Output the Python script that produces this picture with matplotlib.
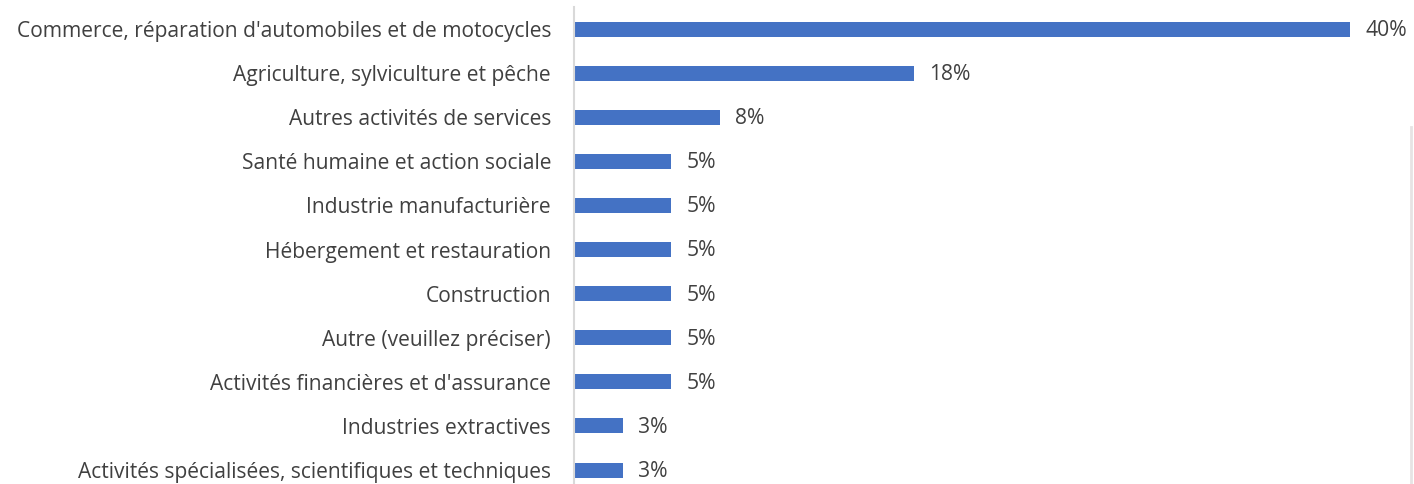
import matplotlib
matplotlib.use("Agg")
import matplotlib.pyplot as plt
from matplotlib.lines import Line2D

categories = [
    "Commerce, réparation d'automobiles et de motocycles",
    "Agriculture, sylviculture et pêche",
    "Autres activités de services",
    "Santé humaine et action sociale",
    "Industrie manufacturière",
    "Hébergement et restauration",
    "Construction",
    "Autre (veuillez préciser)",
    "Activités financières et d'assurance",
    "Industries extractives",
    "Activités spécialisées, scientifiques et techniques",
]
values = [40.0, 17.5, 7.5, 5.0, 5.0, 5.0, 5.0, 5.0, 5.0, 2.5, 2.5]
value_labels = ["40%", "18%", "8%", "5%", "5%", "5%", "5%", "5%", "5%", "3%", "3%"]

W, H = 1414, 484
fig = plt.figure(figsize=(W / 100, H / 100), dpi=100)

px_per_unit = 19.4
xmax = 43
left = 574
top = 7
spacing = 44.1
n = len(categories)
bottom_px = top + spacing * n
ax = fig.add_axes([left / W, 1 - bottom_px / H, xmax * px_per_unit / W, spacing * n / H])

ypos = list(range(n))
ax.barh(ypos, values, height=0.34, color="#4472C4", zorder=2)
ax.set_ylim(n - 0.5, -0.5)
ax.set_xlim(0, xmax)

font = "Open Sans"
txt_color = "#404040"
for y, v, lab in zip(ypos, values, value_labels):
    ax.annotate(lab, (v, y), xytext=(11.5, -1), textcoords="offset points",
                va="center", ha="left", fontsize=15.2, color=txt_color, family=font)

ax.set_yticks(ypos)
ax.set_yticklabels(categories, fontsize=15.1, color=txt_color, family=font)
ax.tick_params(axis="y", length=0, pad=16.5)
ax.set_xticks([])
for s in ["top", "right", "bottom"]:
    ax.spines[s].set_visible(False)
ax.spines["left"].set_color("#D9D9D9")
ax.spines["left"].set_linewidth(1.5)

# faint frame remnant at the right edge
fig.add_artist(Line2D([1411 / W, 1411 / W], [0, 1 - 127 / H], color="#E7E3E4",
                      linewidth=2, transform=fig.transFigure))

fig.savefig("out.png", dpi=100)
